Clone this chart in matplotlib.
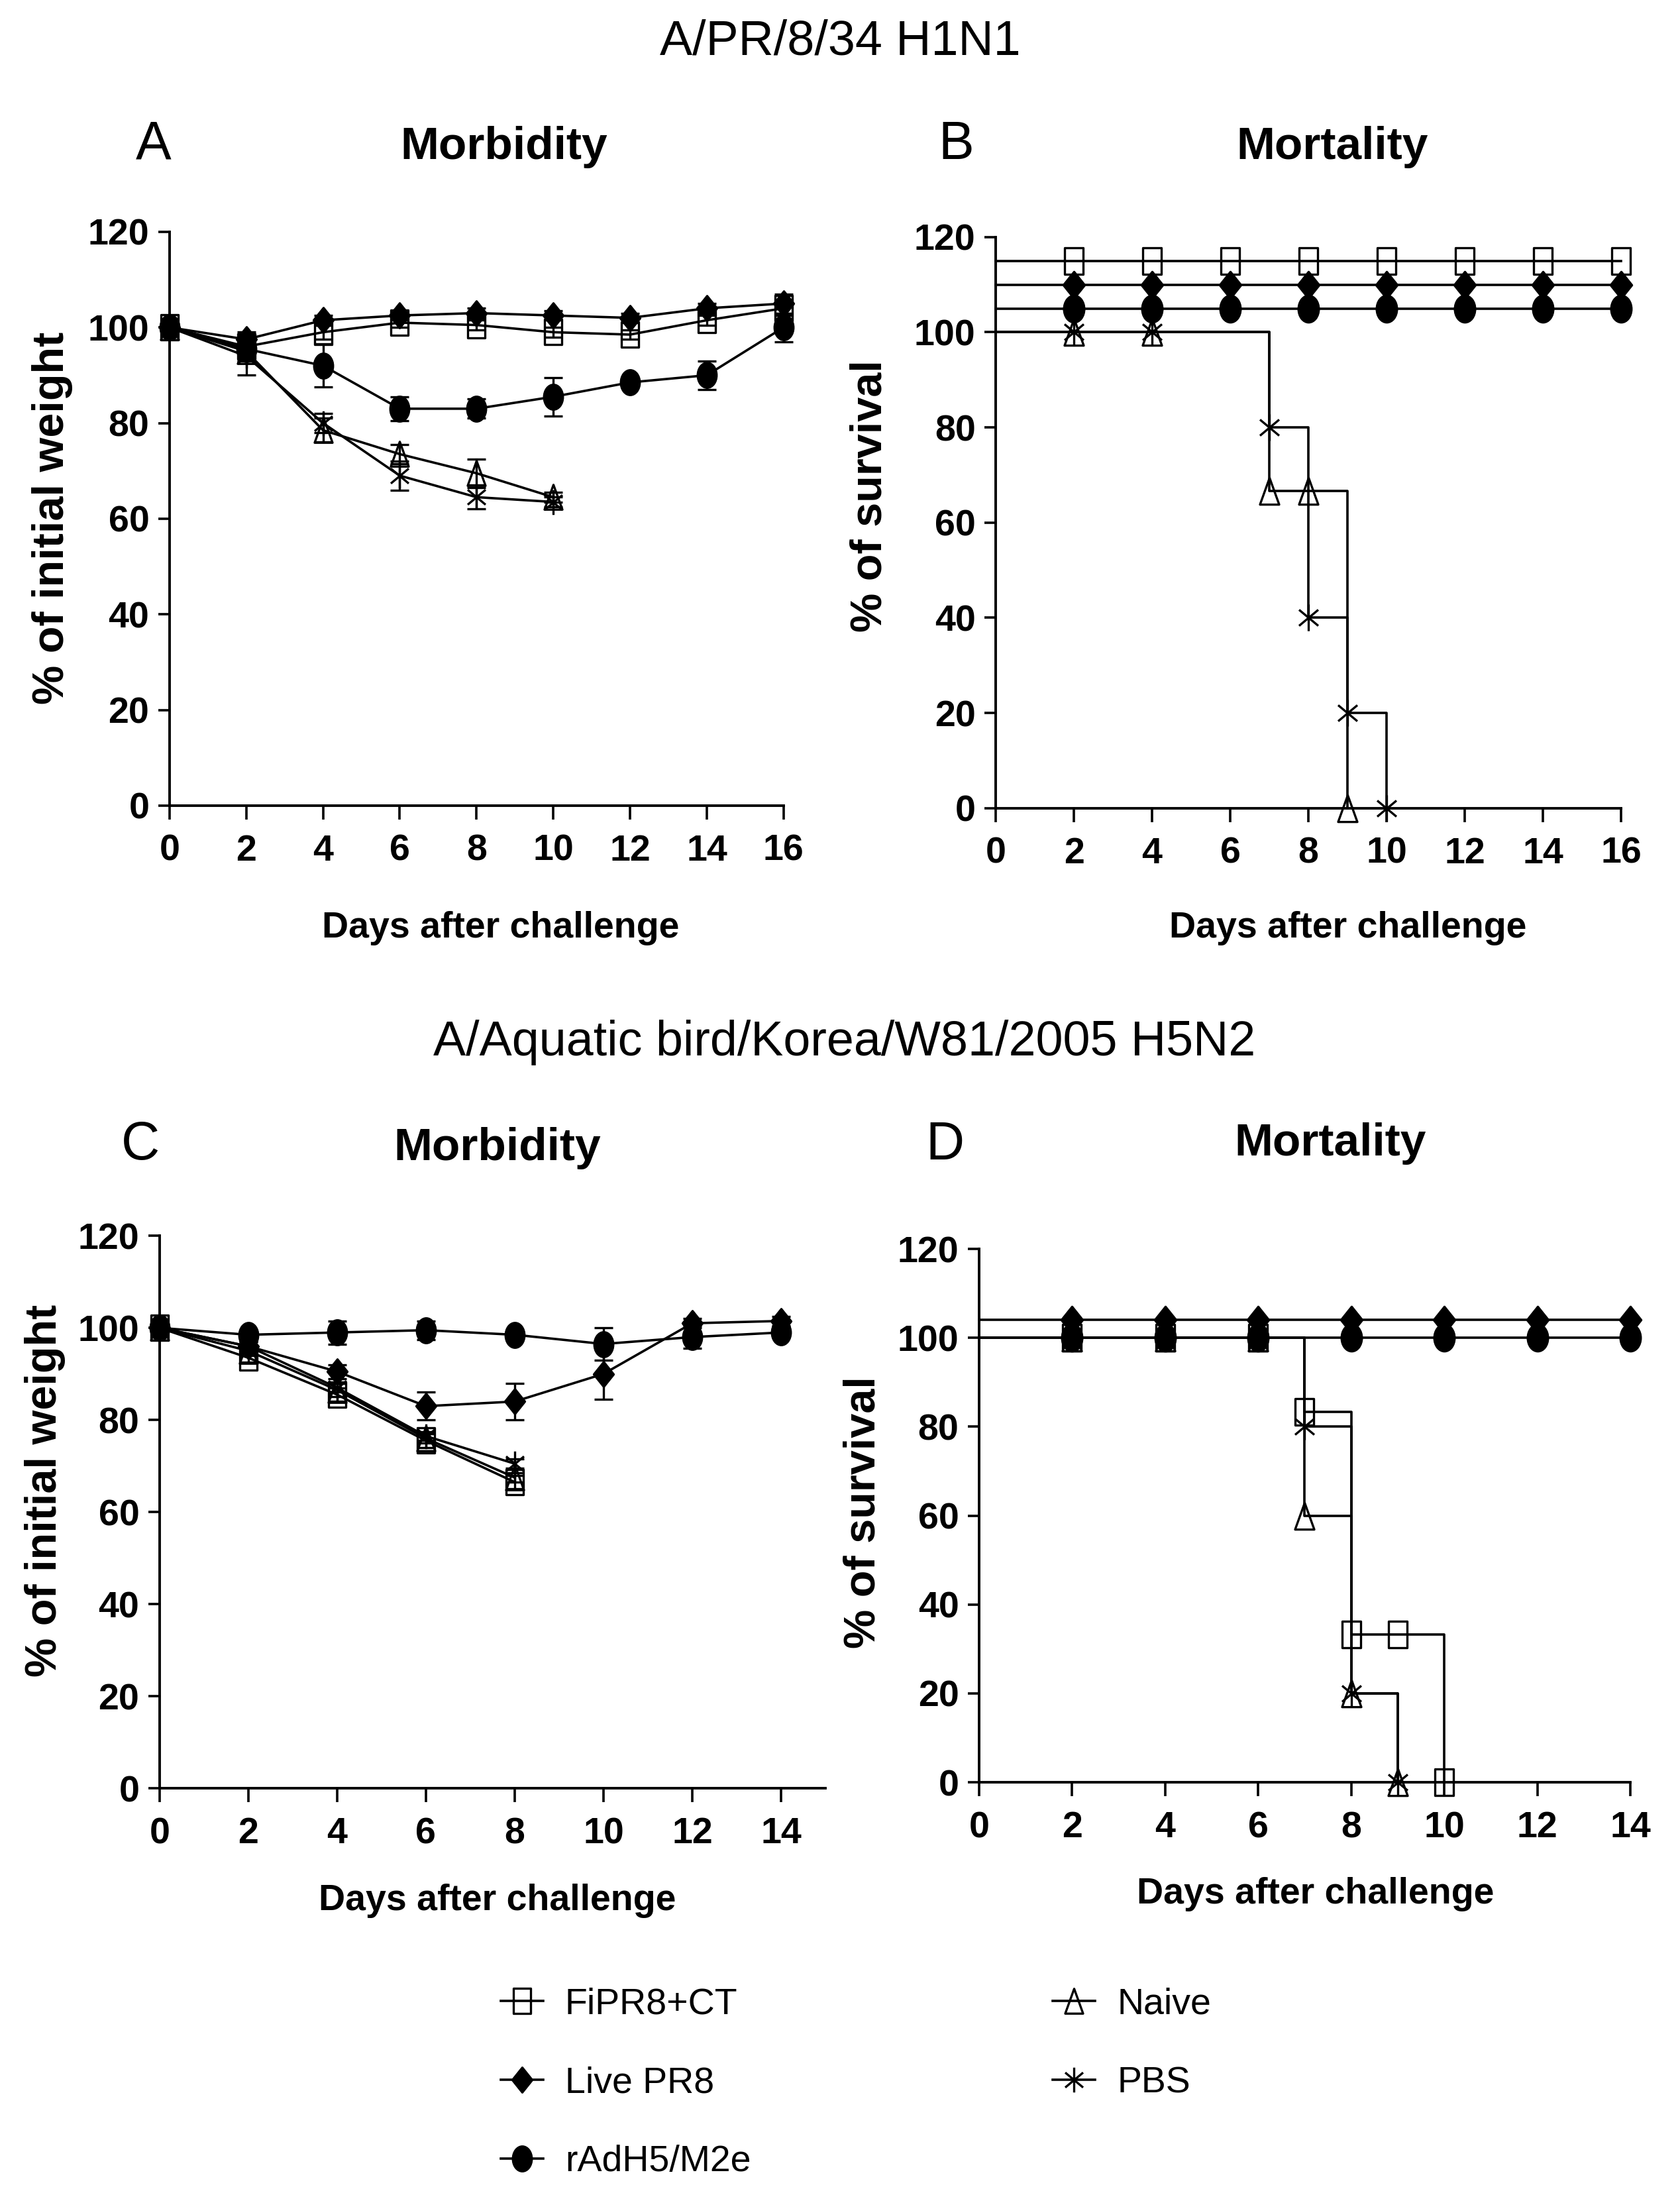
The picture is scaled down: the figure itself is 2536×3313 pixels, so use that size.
import matplotlib
matplotlib.use("Agg")
import matplotlib.pyplot as plt
from matplotlib.path import Path
from matplotlib.transforms import Affine2D
from matplotlib.lines import Line2D

plt.rcParams.update({
    "font.family": ["Liberation Sans", "DejaVu Sans"],
    "axes.linewidth": 2.8,
})

# ---------------------------------------------------------------------------
# Data
# ---------------------------------------------------------------------------
groups = ["FiPR8+CT", "Live PR8", "rAdH5/M2e", "Naive", "PBS"]

# Panel A: morbidity, A/PR/8/34 H1N1
days_a = [0, 2, 4, 6, 8, 10, 12, 14, 16]
days_a_short = [0, 2, 4, 6, 8, 10]
fipr8_a = [100, 96, 99, 101, 100.5, 99, 98.5, 101.5, 104]
fipr8_a_err = [0, 1.5, 1.5, 1, 1, 1, 1, 1, 1.5]
live_a = [100, 97.5, 101.5, 102.5, 103, 102.5, 102, 104, 105]
live_a_err = [0, 1.5, 1, 1, 1, 1, 1, 1, 2]
radh5_a = [100, 95.5, 92, 83, 83, 85.5, 88.5, 90, 100]
radh5_a_err = [0, 2, 4.5, 2.5, 2, 4, 1, 3, 3]
naive_a = [100, 95, 78.5, 73.5, 69.5, 64.5]
naive_a_err = [0, 2, 2.5, 2, 3, 1]
pbs_a = [100, 94, 80, 69, 64.5, 63.5]
pbs_a_err = [0, 4, 2, 3, 2.5, 1]

# Panel B: survival, A/PR/8/34 H1N1 (protected groups offset for visibility)
days_b = [0, 2, 4, 6, 8, 10, 12, 14, 16]
fipr8_b = [115, 115, 115, 115, 115, 115, 115, 115, 115]
live_b = [110, 110, 110, 110, 110, 110, 110, 110, 110]
radh5_b = [105, 105, 105, 105, 105, 105, 105, 105, 105]
naive_b_days = [0, 2, 4, 7, 8, 9]
naive_b = [100, 100, 100, 66.7, 66.7, 0]
pbs_b_days = [0, 2, 4, 7, 8, 9, 10]
pbs_b = [100, 100, 100, 80, 40, 20, 0]

# Panel C: morbidity, A/Aquatic bird/Korea/W81/2005 H5N2
days_c = [0, 2, 4, 6, 8, 10, 12, 14]
days_c_short = [0, 2, 4, 6, 8]
radh5_c = [100, 98.5, 99, 99.5, 98.5, 96.5, 98, 99]
radh5_c_err = [0, 1, 2.5, 2, 1, 3.5, 2.5, 1]
live_c = [100, 96, 90.5, 83, 84, 90, 101, 101.5]
live_c_err = [0, 1, 1.5, 3, 4, 5.5, 1, 1]
fipr8_c = [100, 93.5, 85.5, 75.5, 66.5]
fipr8_c_err = [0, 1, 1.5, 1.5, 1.5]
naive_c = [100, 95, 86.5, 76, 67.5]
naive_c_err = [0, 1, 1.5, 1, 1]
pbs_c = [100, 96, 87, 76.5, 70.5]
pbs_c_err = [0, 1, 1, 1, 1]

# Panel D: survival, H5N2
days_d = [0, 2, 4, 6, 8, 10, 12, 14]
live_d = [104, 104, 104, 104, 104, 104, 104, 104]
radh5_d = [100, 100, 100, 100, 100, 100, 100, 100]
fipr8_d_days = [0, 2, 4, 6, 7, 8, 9, 10]
fipr8_d = [100, 100, 100, 100, 83.3, 33.3, 33.3, 0]
pbs_d_days = [0, 2, 4, 6, 7, 8, 9]
pbs_d = [100, 100, 100, 100, 80, 20, 0]
naive_d_days = [0, 2, 4, 6, 7, 8, 9]
naive_d = [100, 100, 100, 100, 60, 20, 0]

yticks = [0, 20, 40, 60, 80, 100, 120]


# ---------------------------------------------------------------------------
# Tall marker shapes (the original artwork is slightly squeezed)
# ---------------------------------------------------------------------------
def _closed(verts):
    verts = verts + [verts[0]]
    codes = [Path.MOVETO] + [Path.LINETO] * (len(verts) - 2) + [Path.CLOSEPOLY]
    return Path(verts, codes)


SQUARE = _closed([(-0.68, -1), (0.68, -1), (0.68, 1), (-0.68, 1)])
DIAMOND = _closed([(0, -1), (0.8, 0), (0, 1), (-0.8, 0)])
CIRCLE = Path.unit_circle().transformed(Affine2D().scale(0.76, 1.0))
TRIANGLE = _closed([(0, 1), (0.72, -1), (-0.72, -1)])
STAR = Path(
    [(0, -1), (0, 1), (-0.72, -0.6), (0.72, 0.6), (-0.72, 0.6), (0.72, -0.6)],
    [Path.MOVETO, Path.LINETO] * 3,
)

STYLE = {
    "FiPR8+CT": dict(marker=SQUARE, mfc="none"),
    "Live PR8": dict(marker=DIAMOND, mfc="black"),
    "rAdH5/M2e": dict(marker=CIRCLE, mfc="black"),
    "Naive": dict(marker=TRIANGLE, mfc="none"),
    "PBS": dict(marker=STAR, mfc="none"),
}

LW = 2.6
MS = 27


def _style_ax(ax, xmax, xticks):
    ax.set_xlim(0, xmax)
    ax.set_ylim(0, 120)
    ax.set_xticks(xticks)
    ax.set_yticks(yticks)
    for side in ("top", "right"):
        ax.spines[side].set_visible(False)
    ax.tick_params(axis="both", direction="out", width=2.6, labelsize=40)
    ax.tick_params(axis="x", length=15, pad=16)
    ax.tick_params(axis="y", length=12, pad=10)
    for lab in ax.get_xticklabels() + ax.get_yticklabels():
        lab.set_fontweight("bold")


def _weight_line(ax, x, y, err, name):
    ax.errorbar(x, y, yerr=err, fmt="none", ecolor="black", elinewidth=2.4,
                capsize=10, capthick=2.4, zorder=2, clip_on=False)
    ax.plot(x, y, color="black", lw=LW, ms=MS, mec="black", mew=2.4,
            clip_on=False, zorder=3, **STYLE[name])


def _survival_line(ax, x, y, name, first_marker=1):
    ax.plot(x, y, color="black", lw=LW, drawstyle="steps-post",
            clip_on=False, zorder=2)
    ax.plot(x[first_marker:], y[first_marker:], ls="none", ms=MS + 2,
            mec="black", mew=2.4, clip_on=False, zorder=3, **STYLE[name])


fig = plt.figure(figsize=(25.36, 33.13), dpi=100)

ax_a = fig.add_axes([0.1009, 0.6330, 0.3655, 0.2614])
ax_b = fig.add_axes([0.5927, 0.6318, 0.3722, 0.2602])
ax_c = fig.add_axes([0.0950, 0.1853, 0.3963, 0.2517])
ax_d = fig.add_axes([0.5828, 0.1880, 0.3876, 0.2430])

# --- A
_weight_line(ax_a, days_a_short, naive_a, naive_a_err, "Naive")
_weight_line(ax_a, days_a_short, pbs_a, pbs_a_err, "PBS")
_weight_line(ax_a, days_a, fipr8_a, fipr8_a_err, "FiPR8+CT")
_weight_line(ax_a, days_a, radh5_a, radh5_a_err, "rAdH5/M2e")
_weight_line(ax_a, days_a, live_a, live_a_err, "Live PR8")
_style_ax(ax_a, 16, range(0, 17, 2))

# --- B
_survival_line(ax_b, naive_b_days, naive_b, "Naive")
_survival_line(ax_b, pbs_b_days, pbs_b, "PBS")
_survival_line(ax_b, days_b, fipr8_b, "FiPR8+CT")
_survival_line(ax_b, days_b, live_b, "Live PR8")
_survival_line(ax_b, days_b, radh5_b, "rAdH5/M2e")
_style_ax(ax_b, 16, range(0, 17, 2))

# --- C
_weight_line(ax_c, days_c_short, fipr8_c, fipr8_c_err, "FiPR8+CT")
_weight_line(ax_c, days_c_short, naive_c, naive_c_err, "Naive")
_weight_line(ax_c, days_c_short, pbs_c, pbs_c_err, "PBS")
_weight_line(ax_c, days_c, live_c, live_c_err, "Live PR8")
_weight_line(ax_c, days_c, radh5_c, radh5_c_err, "rAdH5/M2e")
_style_ax(ax_c, 15, range(0, 15, 2))

# --- D
_survival_line(ax_d, fipr8_d_days, fipr8_d, "FiPR8+CT")
_survival_line(ax_d, naive_d_days, naive_d, "Naive")
_survival_line(ax_d, pbs_d_days, pbs_d, "PBS")
_survival_line(ax_d, days_d, live_d, "Live PR8")
_survival_line(ax_d, days_d, radh5_d, "rAdH5/M2e")
_style_ax(ax_d, 14, range(0, 15, 2))

# --- texts
fig.text(0.5, 0.981, "A/PR/8/34 H1N1", ha="center", va="center", fontsize=53)
fig.text(0.5025, 0.525, "A/Aquatic bird/Korea/W81/2005 H5N2",
         ha="center", va="center", fontsize=53)

for x, y, letter in [(0.0915, 0.934, "A"), (0.569, 0.934, "B"),
                     (0.0835, 0.478, "C"), (0.5625, 0.478, "D")]:
    fig.text(x, y, letter, ha="center", va="center", fontsize=58)

for x, y, title in [(0.300, 0.933, "Morbidity"), (0.793, 0.933, "Mortality"),
                    (0.296, 0.477, "Morbidity"), (0.792, 0.479, "Mortality")]:
    fig.text(x, y, title, ha="center", va="center", fontsize=50,
             fontweight="bold")

for x, y in [(0.298, 0.577), (0.8025, 0.577), (0.296, 0.134), (0.783, 0.137)]:
    fig.text(x, y, "Days after challenge", ha="center", va="center",
             fontsize=40, fontweight="bold")

for x, y, lab in [(0.031, 0.764, "% of initial weight"),
                  (0.518, 0.774, "% of survival"),
                  (0.027, 0.321, "% of initial weight"),
                  (0.514, 0.311, "% of survival")]:
    fig.text(x, y, lab, ha="center", va="center", rotation=90,
             fontsize=48, fontweight="bold")

# --- legend
handles = [
    Line2D([], [], color="black", lw=LW, ms=MS, mec="black", mew=2.4,
           **STYLE[name])
    for name in groups
]
fig.legend(handles, groups, loc="upper left", bbox_to_anchor=(0.298, 0.0945),
           ncol=2, frameon=False, fontsize=40, handlelength=1.15,
           handletextpad=0.6, labelspacing=1.2, columnspacing=8.2,
           borderpad=0, borderaxespad=0)

fig.savefig("out.png", dpi=100)
